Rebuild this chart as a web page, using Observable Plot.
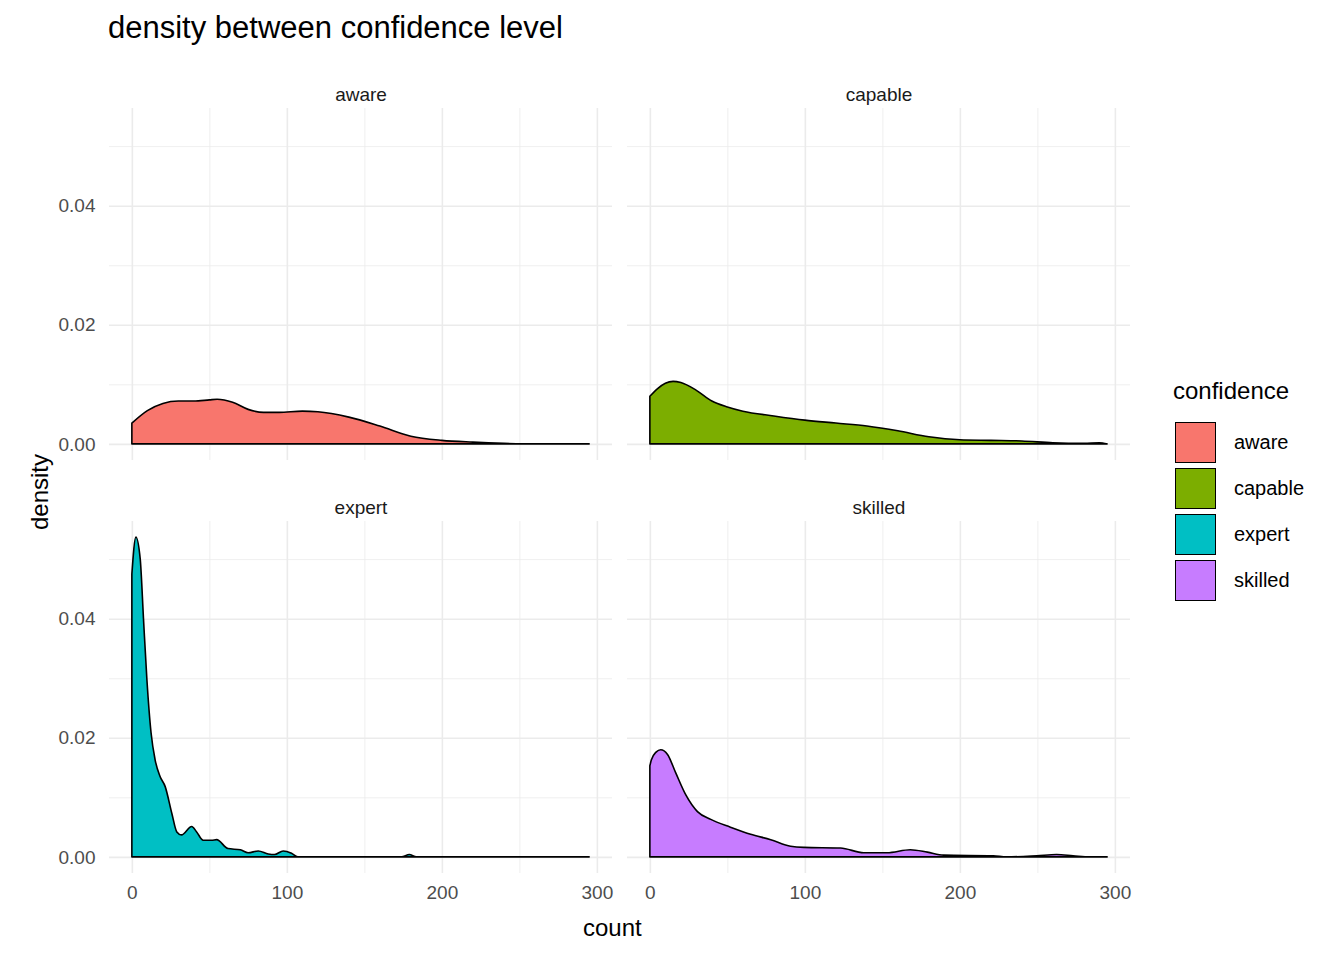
<!DOCTYPE html>
<html><head><meta charset="utf-8">
<script src="https://cdn.jsdelivr.net/npm/d3@7"></script>
<script src="https://cdn.jsdelivr.net/npm/@observablehq/plot@0.6"></script>
<style>
body{margin:0;background:#fff;font-family:"Liberation Sans",Arial,sans-serif;}
#wrap{position:relative;width:1344px;height:960px;}
#wrap svg{position:absolute;left:0;top:0;}
.t{position:absolute;color:#000;white-space:nowrap;}
.key{position:absolute;width:41px;height:41px;border:1.5px solid #000;box-sizing:border-box;}
</style></head><body>
<div id="wrap"></div>
<script>
const levels = ["aware", "capable", "expert", "skilled"];
const colors = ["#F8766D", "#7CAE00", "#00BFC4", "#C77CFF"];

const awareX = [0, 10, 20, 30, 40, 50, 55, 65, 75, 85, 95, 110, 120, 140, 160, 180, 200, 220, 240, 260, 295];
const awareY = [0.0035, 0.0056, 0.0068, 0.0072, 0.0072, 0.0074, 0.0075, 0.0070, 0.0058, 0.0053, 0.0053, 0.0055, 0.0054, 0.0045, 0.0030, 0.0013, 0.0006, 0.0003, 0.0001, 0, 0];

const capableX = [0, 5, 10, 15, 20, 30, 40, 50, 60, 80, 100, 120, 140, 160, 180, 200, 220, 240, 260, 280, 290, 295];
const capableY = [0.0080, 0.0093, 0.0102, 0.0105, 0.0103, 0.0090, 0.0072, 0.0062, 0.0055, 0.0047, 0.0040, 0.0035, 0.0030, 0.0022, 0.0012, 0.0007, 0.0006, 0.0005, 0.0002, 0.0001, 0.0002, 0];

const expertX = [0, 2.6, 5.4, 7.5, 9.7, 12.4, 15, 18.2, 21.5, 25.8, 29, 32, 38.6, 41.8, 46, 51.5, 54.7, 62, 70, 75, 81.5, 88, 92, 97.6, 103, 107, 174, 179, 183.5, 295];
const expertY = [0.0475, 0.0537, 0.050, 0.040, 0.0298, 0.0208, 0.0163, 0.0135, 0.0118, 0.0073, 0.0042, 0.0037, 0.0051, 0.0042, 0.0028, 0.0028, 0.0029, 0.0014, 0.0012, 0.0007, 0.0010, 0.0005, 0.0004, 0.0010, 0.0006, 0, 0, 0.0004, 0, 0];

const skilledX = [0, 1, 4, 7, 11.4, 16.7, 23.2, 30.7, 39.3, 52, 65, 78, 90.8, 99.4, 123, 138, 153, 168, 179, 189.5, 221.6, 230, 249.6, 262.4, 273, 283.8, 295];
const skilledY = [0.0153, 0.0163, 0.0176, 0.0180, 0.0172, 0.0141, 0.0104, 0.0076, 0.0063, 0.0050, 0.0038, 0.0029, 0.0018, 0.0016, 0.0015, 0.0007, 0.0007, 0.0012, 0.0008, 0.0003, 0.0002, 0, 0.0002, 0.0004, 0.0002, 0, 0];

const xTicks = [0, 100, 200, 300];
const yTicks = [0, 0.02, 0.04];

const panelPos = {aware: ["a", "t"], capable: ["b", "t"], expert: ["a", "u"], skilled: ["b", "u"]};
const series = {aware: [awareX, awareY], capable: [capableX, capableY], expert: [expertX, expertY], skilled: [skilledX, skilledY]};

const rows = [];
for (const k of levels) {
  const [xs, ys] = series[k];
  xs.forEach((x, i) => rows.push({confidence: k, count: x, density: ys[i], fx: panelPos[k][0], fy: panelPos[k][1]}));
}
const panels = levels.map(k => ({label: k, fx: panelPos[k][0], fy: panelPos[k][1]}));

const plot = Plot.plot({
  width: 1344, height: 960,
  marginLeft: 108, marginRight: 214, marginTop: 108, marginBottom: 87,
  style: {fontFamily: "Liberation Sans, Arial, sans-serif", fontSize: "15px", background: "transparent"},
  fx: {domain: ["a", "b"], paddingInner: 0.029, paddingOuter: 0, axis: null},
  fy: {domain: ["t", "u"], paddingInner: 0.148, paddingOuter: 0, axis: null},
  x: {domain: [-14.75, 309.75]},
  y: {domain: [-0.0027, 0.0564]},
  color: {domain: levels, range: colors},
  marks: [
    Plot.gridX([50, 150, 250], {stroke: "#ebebeb", strokeOpacity: 1, strokeWidth: 0.8}),
    Plot.gridY([0.01, 0.03, 0.05], {stroke: "#ebebeb", strokeOpacity: 1, strokeWidth: 0.8}),
    Plot.gridX(xTicks, {stroke: "#ebebeb", strokeOpacity: 1, strokeWidth: 1.6}),
    Plot.gridY(yTicks, {stroke: "#ebebeb", strokeOpacity: 1, strokeWidth: 1.6}),
    Plot.axisX(xTicks, {tickSize: 0, tickPadding: 12, fill: "#4d4d4d", fontSize: 19 / 1.0 > 0 ? "19px" : "19px", label: null}),
    Plot.axisY(yTicks, {tickSize: 0, tickPadding: 14, fill: "#4d4d4d", fontSize: "19px", tickFormat: d3.format(".2f"), label: null}),
    Plot.areaY(rows, {x: "count", y: "density", fill: "confidence", stroke: "black", strokeWidth: 1.6, fx: "fx", fy: "fy", curve: "monotone-x"}),
    Plot.text(panels, {fx: "fx", fy: "fy", text: "label", frameAnchor: "top", dy: -21, fontSize: 19, fill: "#1a1a1a"})
  ]
});
const wrap = document.getElementById("wrap");
wrap.append(plot);

function addText(txt, x, y, size, extra) {
  const d = document.createElement("div");
  d.className = "t";
  d.textContent = txt;
  d.style.left = x + "px"; d.style.top = y + "px"; d.style.fontSize = size + "px";
  if (extra) Object.assign(d.style, extra);
  wrap.append(d);
}
addText("density between confidence level", 108, 10, 31);
addText("count", 583, 914, 24);
addText("density", 2, 478, 24, {transform: "rotate(-90deg)", transformOrigin: "center"});
addText("confidence", 1173, 377, 24);
levels.forEach((k, i) => {
  const s = document.createElement("div");
  s.className = "key";
  s.style.left = "1175px"; s.style.top = (422 + i * 46) + "px"; s.style.background = colors[i];
  wrap.append(s);
  addText(k, 1234, 431 + i * 46, 20);
});
</script>
</body></html>
